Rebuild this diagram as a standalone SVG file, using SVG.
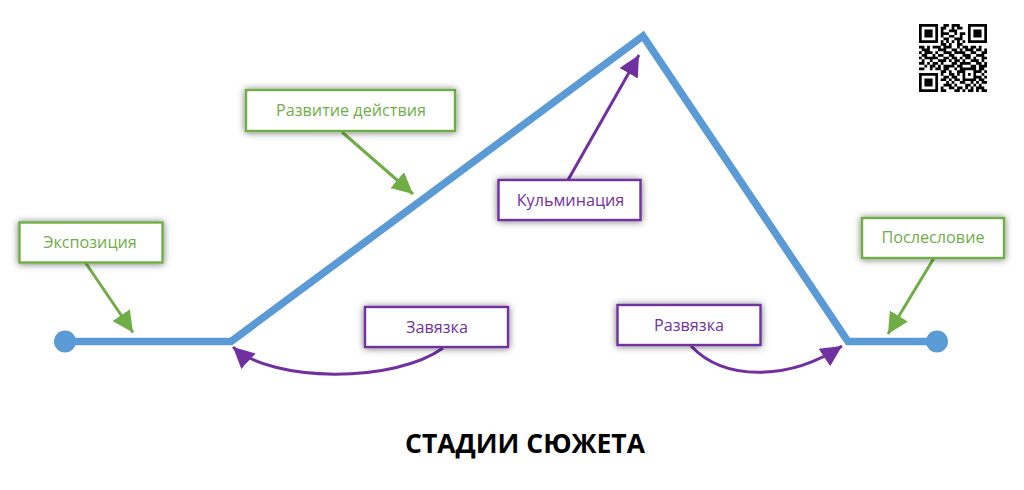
<svg xmlns="http://www.w3.org/2000/svg" width="1024" height="490" viewBox="0 0 1024 490">
<style>
.box{fill:#fff;stroke-width:2.4;filter:url(#sh)}
.g{stroke:#70AD47}.p{stroke:#7030A0}
.lab{font-family:"Open Sans","Noto Sans",sans-serif;font-size:16.2px;text-anchor:middle}
.lg{fill:#70AD47}.lp{fill:#7030A0}
.c{fill:none;stroke-width:3}
.plot{fill:none;stroke:#5B9BD5;stroke-width:7.500}
</style>
<defs>
<filter id="sh" x="-20%" y="-40%" width="140%" height="190%"><feDropShadow dx="0" dy="0.500" stdDeviation="3.800" flood-color="#000" flood-opacity="0.55"/></filter>
<marker id="ag" markerUnits="userSpaceOnUse" markerWidth="24" markerHeight="24" refX="21" refY="10.500" orient="auto"><path d="M0 0L21 10.500L0 21Z" fill="#70AD47"/></marker>
<marker id="ap" markerUnits="userSpaceOnUse" markerWidth="24" markerHeight="24" refX="21" refY="10.500" orient="auto"><path d="M0 0L21 10.500L0 21Z" fill="#7030A0"/></marker>
</defs>
<rect width="1024" height="490" fill="#fff"/>
<g id="plot"><path class="plot" d="M65 341.500H231L643 36L848 341.500H937"/><circle cx="65" cy="341.500" r="11" fill="#5B9BD5"/><circle cx="937" cy="341.500" r="11" fill="#5B9BD5"/></g>
<g id="connectors">
<path class="c g" marker-end="url(#ag)" d="M85 262L133 332.500"/>
<path class="c g" marker-end="url(#ag)" d="M342 132L413 194"/>
<path class="c g" marker-end="url(#ag)" d="M934 258L888 334"/>
<path class="c p" marker-end="url(#ap)" d="M568 180L639 55"/>
<path class="c p" marker-end="url(#ap)" d="M443 348C395 383 272 383 233 347"/>
<path class="c p" marker-end="url(#ap)" d="M691 346C725 382 790 380 842 346"/>
</g>
<g id="n1"><rect class="box g" x="19.500" y="222.500" width="143" height="40"/><text class="lab lg" x="90" y="248">Экспозиция</text></g>
<g id="n2"><rect class="box g" x="246" y="90" width="209" height="41"/><text class="lab lg" x="351" y="116">Развитие действия</text></g>
<g id="n3"><rect class="box p" x="498.500" y="180" width="142" height="40"/><text class="lab lp" x="570.500" y="206">Кульминация</text></g>
<g id="n4"><rect class="box p" x="365" y="307" width="143" height="40"/><text class="lab lp" x="437" y="333">Завязка</text></g>
<g id="n5"><rect class="box p" x="617.500" y="305" width="143" height="40"/><text class="lab lp" x="689" y="331">Развязка</text></g>
<g id="n6"><rect class="box g" x="862" y="218" width="142" height="40"/><text class="lab lg" x="933" y="243">Послесловие</text></g>
<text x="525" y="453" font-family="'Open Sans','Noto Sans',sans-serif" font-weight="700" font-size="26.500" text-anchor="middle" fill="#000">СТАДИИ СЮЖЕТА</text>
<g id="qr" transform="translate(919 24) scale(2.72)">
<path fill="none" stroke="#000" stroke-width="1" d="M0 .5h7M0 6.500h7M.5 1v5M6.500 1v5M18 .5h7M18 6.500h7M18.500 1v5M24.500 1v5M0 18.500h7M0 24.500h7M.5 19v5M6.500 19v5"/>
<path fill="#000" d="M2 2h3v3h-3zM20 2h3v3h-3zM2 20h3v3h-3z"/>
<path fill="none" stroke="#000" stroke-width="1" d="M9 .5h2M12 .5h3
M8 1.500h2M12 1.500h1M14 1.500h2
M8 2.500h1M11 2.500h3
M8 3.500h3M13 3.500h1M15 3.500h2
M8 4.500h1M11 4.500h2M15 4.500h1
M9 5.500h2M13 5.500h3
M8 6.500h1M10 6.500h1M12 6.500h1M14 6.500h1M16 6.500h1
M8 7.500h2M11 7.500h1M14 7.500h2
M0 8.500h2M3 8.500h1M5 8.500h3M9 8.500h3M14 8.500h1M16 8.500h2M19 8.500h2M22 8.500h1
M1 9.500h3M7 9.500h3M12 9.500h2M15 9.500h1M17 9.500h3M21 9.500h2M24 9.500h1
M0 10.500h1M2 10.500h3M6 10.500h1M9 10.500h3M13 10.500h4M19 10.500h2M23 10.500h2
M1 11.500h2M5 11.500h1M7 11.500h2M11 11.500h2M16 11.500h3M21 11.500h3
M0 12.500h1M2 12.500h5M9 12.500h2M12 12.500h2M15 12.500h1M17 12.500h2M20 12.500h1M23 12.500h2
M1 13.500h1M4 13.500h1M7 13.500h3M11 13.500h1M13 13.500h2M16 13.500h1M19 13.500h3M23 13.500h1
M0 14.500h2M3 14.500h1M5 14.500h2M8 14.500h1M12 14.500h2M15 14.500h4M21 14.500h2M24 14.500h1
M2 15.500h1M4 15.500h2M7 15.500h1M9 15.500h4M14 15.500h2M19 15.500h2M22 15.500h3
M0 16.500h2M4 16.500h1M6 16.500h2M9 16.500h2M13 16.500h1M15 16.500h6M22 16.500h2
M8 17.500h2M11 17.500h1M14 17.500h3M20 17.500h3M24 17.500h1
M8 18.500h1M11 18.500h2M14 18.500h1M16 18.500h1M18 18.500h1M20 18.500h1M23 18.500h1
M9 19.500h2M12 19.500h2M16 19.500h1M20 19.500h3M24 19.500h1
M8 20.500h2M11 20.500h1M13 20.500h2M16 20.500h5M22 20.500h2
M10 21.500h1M12 21.500h1M15 21.500h2M19 21.500h1M21 21.500h1M23 21.500h2
M9 22.500h3M13 22.500h1M17 22.500h2M20 22.500h1M22 22.500h1
M8 23.500h1M11 23.500h2M14 23.500h2M17 23.500h1M19 23.500h1M21 23.500h3
M8 24.500h2M13 24.500h2M16 24.500h1M18 24.500h2M21 24.500h1M23 24.500h2"/>
</g>
</svg>
